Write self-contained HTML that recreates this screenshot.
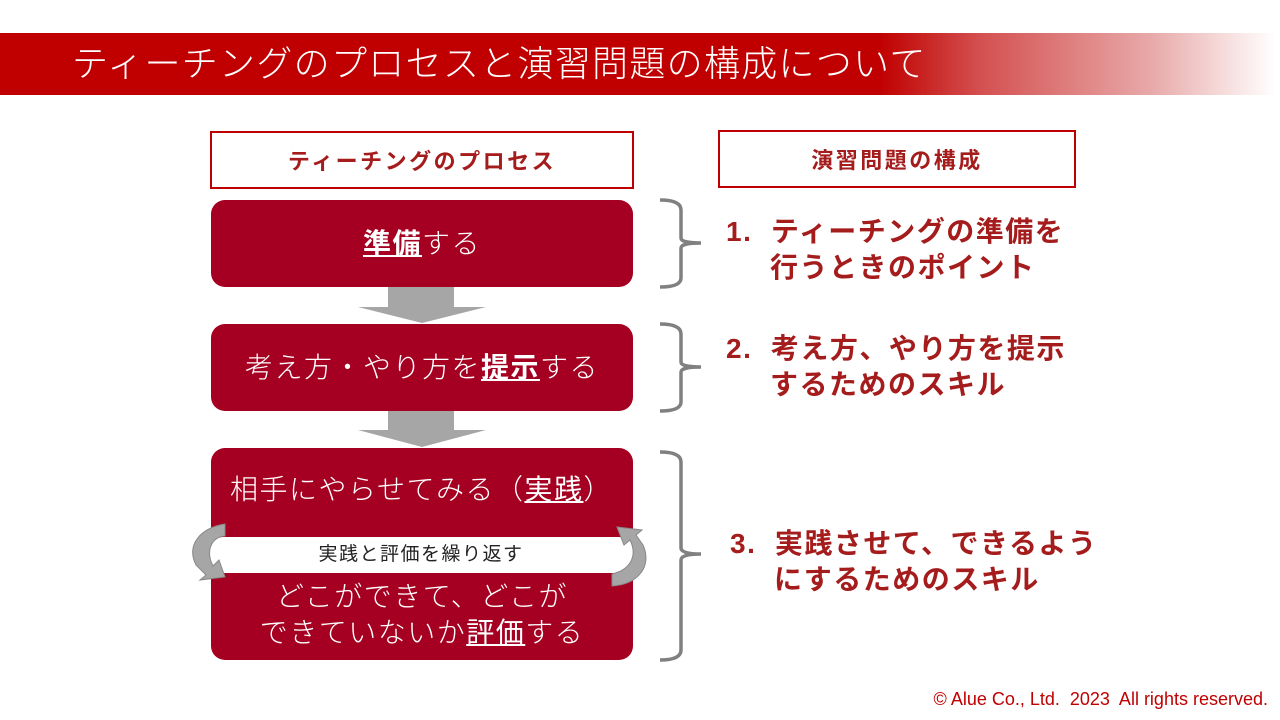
<!DOCTYPE html>
<html><head><meta charset="utf-8"><style>
body{margin:0;width:1280px;height:720px;background:#fff;position:relative;overflow:hidden;font-family:"Liberation Sans","Noto Sans CJK JP",sans-serif}
.a{position:absolute}
.banner{left:0;top:33px;width:1280px;height:62px;background:linear-gradient(90deg,#c00000 0,#c00000 880px,#d45050 980px,#e8a8a8 1150px,#fff 1275px)}
.title{left:72px;top:38px;color:#fff;font-size:36px;font-weight:300;letter-spacing:1.3px;line-height:52px;white-space:nowrap}
.hdr{border:2.5px solid #c00000;box-sizing:border-box;color:#a51c1c;font-weight:bold;font-size:22px;letter-spacing:2.5px;display:flex;align-items:center;justify-content:center}
.box{background:#a50021;border-radius:14px;color:#fff;font-size:28px;letter-spacing:1.5px;font-weight:300;display:flex;align-items:center;justify-content:center;text-align:center;line-height:40px}
.box b,.box u{font-weight:bold}
.rt{color:#a51c1c;font-weight:bold;font-size:28px;letter-spacing:1.5px;line-height:36px;white-space:nowrap}
</style></head><body>
<div class="a banner"></div>
<div class="a title">ティーチングのプロセスと演習問題の構成について</div>
<div class="a hdr" style="left:210px;top:131px;width:424px;height:58px">ティーチングのプロセス</div>
<div class="a hdr" style="left:718px;top:130px;width:358px;height:58px">演習問題の構成</div>

<div class="a box" style="left:211px;top:200px;width:422px;height:87px"><span><b><u>準備</u></b>する</span></div>
<div class="a box" style="left:211px;top:324px;width:422px;height:87px"><span>考え方・やり方を<b><u>提示</u></b>する</span></div>
<div class="a box" style="left:211px;top:448px;width:422px;height:212px"></div>
<div class="a" style="left:230px;top:470px;color:#fff;font-size:28px;letter-spacing:1.5px;font-weight:300;line-height:40px;white-space:nowrap">相手にやらせてみる（<b><u>実践</u></b>）</div>
<div class="a" style="left:211px;top:579px;width:422px;text-align:center;color:#fff;font-size:28px;letter-spacing:1.5px;font-weight:300;line-height:36px">どこができて、どこが<br>できていないか<b><u>評価</u></b>する</div>
<div class="a" style="left:205px;top:537px;width:432px;height:36px;background:#fff;border-radius:18px;text-align:center;font-size:19px;letter-spacing:1.5px;line-height:36px;color:#222">実践と評価を繰り返す</div>

<svg class="a" style="left:0;top:0" width="1280" height="720">
<g fill="#a6a6a6">
<rect x="388" y="287" width="66" height="20"/><polygon points="358,307 486,307 422,323"/>
<rect x="388" y="411" width="66" height="19"/><polygon points="358,430 486,430 422,447"/>
<path d="M225,524 C200,528 186,545 196,565 L206,575 L200,580 L225,577 L219,560 L213,566 C205,550 212,537 225,536 Z" stroke="#888" stroke-width="1"/>
<path d="M612,586 C640,584 652,565 643,545 L636,535 L642,530 L617,527 L624,545 L630,540 C638,556 630,570 612,574 Z" stroke="#888" stroke-width="1"/>
</g>
<g fill="none" stroke="#808080" stroke-width="3.5">
<path d="M660,200 Q681,200 681,210 L681,238 Q681,243 701,243 Q681,243 681,248 L681,278 Q681,287 660,287"/>
<path d="M660,324 Q681,324 681,334 L681,362 Q681,367 701,367 Q681,367 681,372 L681,402 Q681,411 660,411"/>
<path d="M660,452 Q681,452 681,462 L681,548 Q681,554 701,554 Q681,554 681,560 L681,650 Q681,660 660,660"/>
</g>
</svg>

<div class="a rt" style="left:726px;top:214px">1.&nbsp;&nbsp;ティーチングの準備を<br><span style="padding-left:44px">行うときのポイント</span></div>
<div class="a rt" style="left:726px;top:331px">2.&nbsp;&nbsp;考え方、やり方を提示<br><span style="padding-left:44px">するためのスキル</span></div>
<div class="a rt" style="left:730px;top:526px">3.&nbsp;&nbsp;実践させて、できるよう<br><span style="padding-left:44px">にするためのスキル</span></div>
<div class="a" style="right:12px;top:689px;color:#c00000;font-size:18px;white-space:nowrap">© Alue Co., Ltd.&nbsp; 2023&nbsp; All rights reserved.</div>
</body></html>
